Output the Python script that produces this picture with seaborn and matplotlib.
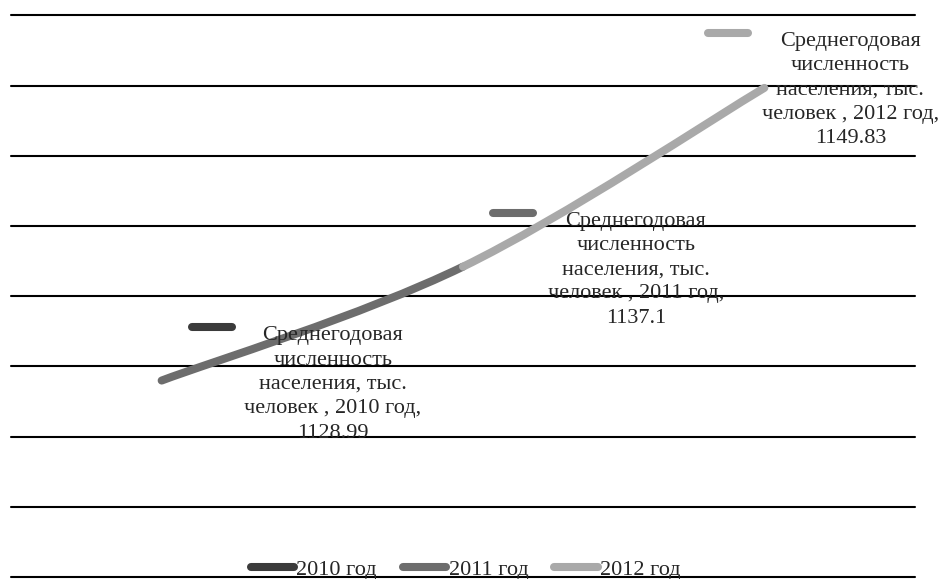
import matplotlib
matplotlib.use("Agg")
import matplotlib.pyplot as plt
from matplotlib.markers import MarkerStyle
from matplotlib.patches import PathPatch
from matplotlib.path import Path
from matplotlib.transforms import offset_copy
import numpy as np
import pandas as pd
import seaborn as sns

# ── data ──────────────────────────────────────────────────
series_name = "Среднегодовая численность населения, тыс. человек"
years = ["2010 год", "2011 год", "2012 год"]
values = [1128.99, 1137.1, 1149.83]
colors = ["#3b3b3b", "#6d6d6d", "#a9a9a9"]
y_ticks = [1115, 1120, 1125, 1130, 1135, 1140, 1145, 1150, 1155]

sns.set_style("white")
plt.rcParams["font.family"] = ["Liberation Serif", "DejaVu Serif"]

FS = 16
LW = 5.8

fig = plt.figure(figsize=(9.39, 5.79), dpi=100)
ax = fig.add_axes([11 / 939, 2 / 579, 904 / 939, 561.7 / 579])

df = pd.DataFrame({"x": np.arange(len(years)), "value": values, "year": years})

# single-point groups: nothing visible, but gives the legend entries
sns.lineplot(data=df, x="x", y="value", hue="year", palette=colors,
             linewidth=LW, ax=ax)

ax.set_xlim(-0.5, len(years) - 0.5)
ax.set_ylim(y_ticks[0], y_ticks[-1])
ax.set_yticks(y_ticks)
ax.set_xticks([])
ax.tick_params(left=False, bottom=False, labelleft=False, labelbottom=False)
ax.set_xlabel("")
ax.set_ylabel("")
for s in ax.spines.values():
    s.set_visible(False)
ax.yaxis.grid(True, color="black", linewidth=1.5)
for gl in ax.get_ygridlines():
    gl.set_clip_on(False)

# ── smoothed line (Excel-style bezier), coloured by point ──
xs = df["x"].to_numpy(dtype=float)
ys = df["value"].to_numpy(dtype=float)
n = len(xs)
for i in range(1, n):
    p0 = np.array([xs[max(i - 2, 0)], ys[max(i - 2, 0)]])
    p1 = np.array([xs[i - 1], ys[i - 1]])
    p2 = np.array([xs[i], ys[i]])
    p3 = np.array([xs[min(i + 1, n - 1)], ys[min(i + 1, n - 1)]])
    c1 = p1 + (p2 - p0) / 6
    c2 = p2 - (p3 - p1) / 6
    path = Path([p1, c1, c2, p2],
                [Path.MOVETO, Path.CURVE4, Path.CURVE4, Path.CURVE4])
    ax.add_patch(PathPatch(path, facecolor="none", edgecolor=colors[i],
                           linewidth=LW, capstyle="round", zorder=3))

# ── data labels with legend keys ──────────────────────────
key_marker = MarkerStyle("_", capstyle="round")
label_offsets = [(171, -4), (173, -3), (86, -2)]
key_offsets = [(50, 54), (50, 54), (-36, 55)]
name_lines = "Среднегодовая\nчисленность\nнаселения, тыс.\nчеловек"
for i, (yr, val) in enumerate(zip(years, values)):
    txt = f"{name_lines} , {yr},\n{val:g}"
    ax.annotate(txt, (xs[i], val), xytext=label_offsets[i],
                textcoords="offset pixels", ha="center", va="center",
                multialignment="center", fontsize=FS, linespacing=1.38,
                zorder=4)
    tr = offset_copy(ax.transData, fig=fig, x=key_offsets[i][0],
                     y=key_offsets[i][1], units="dots")
    ax.plot([xs[i]], [val], marker=key_marker, markersize=29.5,
            markeredgewidth=LW, color=colors[i], transform=tr,
            clip_on=False, zorder=4)

# ── legend ────────────────────────────────────────────────
sns.move_legend(ax, "center", bbox_to_anchor=(0.503, 0.0125), ncol=3,
                frameon=False, title=None, fontsize=FS, handlelength=1.95,
                handletextpad=0.1, columnspacing=1.17, borderpad=0)
leg = ax.get_legend()
for h in leg.legend_handles:
    h.set_linewidth(LW)
    h.set_solid_capstyle("round")

fig.savefig("out.png", dpi=100)
plt.close(fig)
